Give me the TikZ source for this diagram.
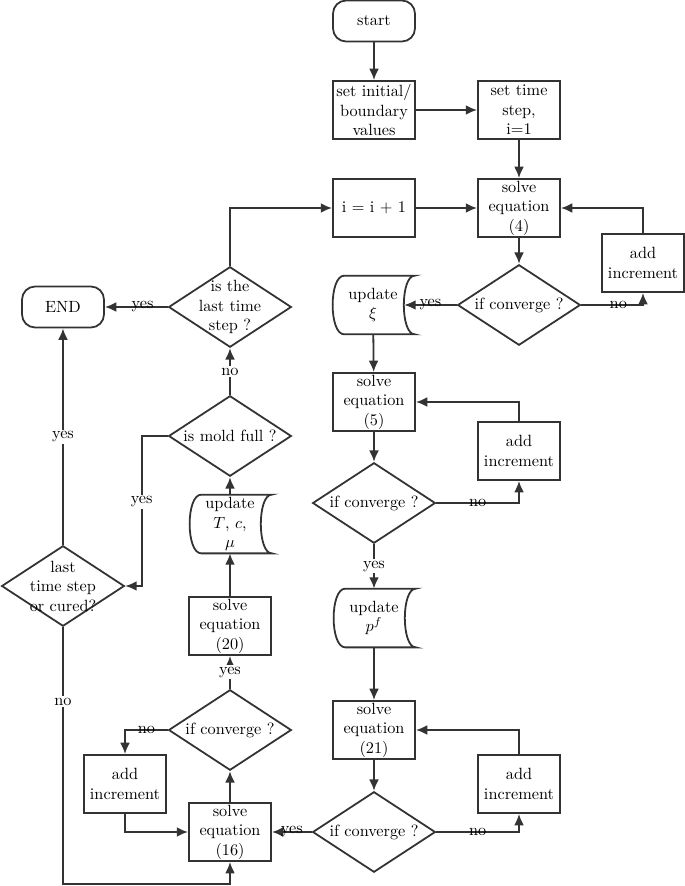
\documentclass[tikz,border=0pt]{standalone}
\usetikzlibrary{arrows.meta, shapes.geometric}

\begin{document}
\begin{tikzpicture}[
		x=0.615pt, y=-0.615pt,
		box/.style={rectangle, draw=black!80, line width=1.1pt, minimum width=50.4pt, minimum height=35.7pt, inner sep=1pt, align=center},
		term/.style={rectangle, rounded corners=8pt, draw=black!80, line width=1.1pt, minimum width=50.4pt, minimum height=25.2pt},
		dec/.style={diamond, draw=black!80, line width=1.1pt, inner sep=0pt, minimum width=75.5pt, minimum height=49.5pt},
		store/.style={rectangle, minimum width=51pt, minimum height=35.7pt, inner sep=1pt, align=center},
		arr/.style={draw=black!80, line width=1.1pt, -{Latex[length=7pt, width=6pt]}},
		yn/.style={inner sep=1pt},
		ynv/.style={fill=white, inner sep=1pt}
		]
		\useasboundingbox (0,0) rectangle (685,886);
		% right column
		\node (start) at (374,21) [term] {start};
		\node (init) at (374,110) [box] {set initial/\\boundary\\values};
		\node (tstep) at (519,110) [box] {set time\\step,\\i=1};
		\node (incr) at (374,208) [box] {i = i + 1};
		\node (solveA) at (519,208) [box] {solve\\equation\\(4)};
		\node (addA) at (643,263) [box] {add\\increment};
		\node (convA) at (519,305) [dec, label=center:if converge ?] {};
		\node (upxi) at (373,305) [store] {update\\$\xi$};
		\node (solveB) at (374,402) [box] {solve\\equation\\(5)};
		\node (addB) at (519,451) [box] {add\\increment};
		\node (convB) at (374,503) [dec, label=center:if converge ?] {};
		\node (upp) at (374,618) [store] {update\\$p^f$};
		\node (solveC) at (374,730) [box] {solve\\equation\\(21)};
		\node (addC) at (519,784) [box] {add\\increment};
		\node (convC) at (374,832) [dec, label=center:if converge ?] {};
		% left column
		\node (solveD) at (230,832) [box] {solve\\equation\\(16)};
		\node (addD) at (125,784) [box] {add\\increment};
		\node (convD) at (230,730) [dec, label=center:if converge ?] {};
		\node (solveE) at (230,626) [box] {solve\\equation\\(20)};
		\node (upT) at (230,524) [store] {update\\$T$, $c$,\\$\mu$};
		\node (full) at (230,436) [dec, label=center:is mold full ?] {};
		\node (last) at (230,307) [dec, label={[align=center]center:is the\\last time\\step ?}] {};
		\node (endn) at (63,307) [term] {END};
		\node (cured) at (63,586) [dec, label={[align=center]center:last\\time step\\or cured?}] {};
		\coordinate (bot) at (63,884);

		% data shapes
		\foreach \n in {upxi, upp, upT}
			\draw[draw=black!80, line width=1.1pt] ([xshift=8pt]\n.north west) -- (\n.north east)
				.. controls ([xshift=-9pt]\n.north east) and ([xshift=-9pt]\n.south east) .. (\n.south east)
				-- ([xshift=8pt]\n.south west)
				.. controls ([xshift=-1.5pt]\n.south west) and ([xshift=-1.5pt]\n.north west) .. cycle;

		\draw[arr] (start) -- (init);
		\draw[arr] (init) -- (tstep);
		\draw[arr] (tstep) -- (solveA);
		\draw[arr] (incr) -- (solveA);
		\draw[arr] (solveA) -- (convA);
		\draw[arr] (convA.east) -| node[yn, pos=0.3] {no} (addA.south);
		\draw[arr] (addA.north) |- (solveA.east);
		\draw[arr] (convA.west) -- node[yn] {yes} ([xshift=-6.5pt]upxi.east);
		\draw[arr] (upxi) -- (solveB);
		\draw[arr] (solveB) -- (convB);
		\draw[arr] (convB.east) -| node[yn, pos=0.25] {no} (addB.south);
		\draw[arr] (addB.north) |- (solveB.east);
		\draw[arr] (convB) -- node[ynv] {yes} (upp);
		\draw[arr] (upp) -- (solveC);
		\draw[arr] (solveC) -- (convC);
		\draw[arr] (convC.east) -| node[yn, pos=0.25] {no} (addC.south);
		\draw[arr] (addC.north) |- (solveC.east);
		\draw[arr] (convC.west) -- node[yn] {yes} (solveD.east);
		\draw[arr] (solveD) -- (convD);
		\draw[arr] (convD) -- node[ynv] {yes} (solveE);
		\draw[arr] (convD.west) -| node[yn, pos=0.25] {no} (addD.north);
		\draw[arr] (addD.south) |- (solveD.west);
		\draw[arr] (solveE) -- (upT);
		\draw[arr] (upT) -- (full);
		\draw[arr] (full) -- node[ynv] {no} (last);
		\draw[arr] (last.west) -- node[yn, pos=0.4] {yes} (endn);
		\draw[arr] (last.north) |- (incr.west);
		\draw[arr] (full.west) -- ++(-26,0) |- node[ynv, pos=0.22] {yes} (cured.east);
		\draw[arr] (cured) -- node[ynv] {yes} (endn);
		\draw[arr] (cured.south) -- node[ynv, pos=0.29] {no} (bot) -| (solveD.south);
	\end{tikzpicture}
\end{document}
